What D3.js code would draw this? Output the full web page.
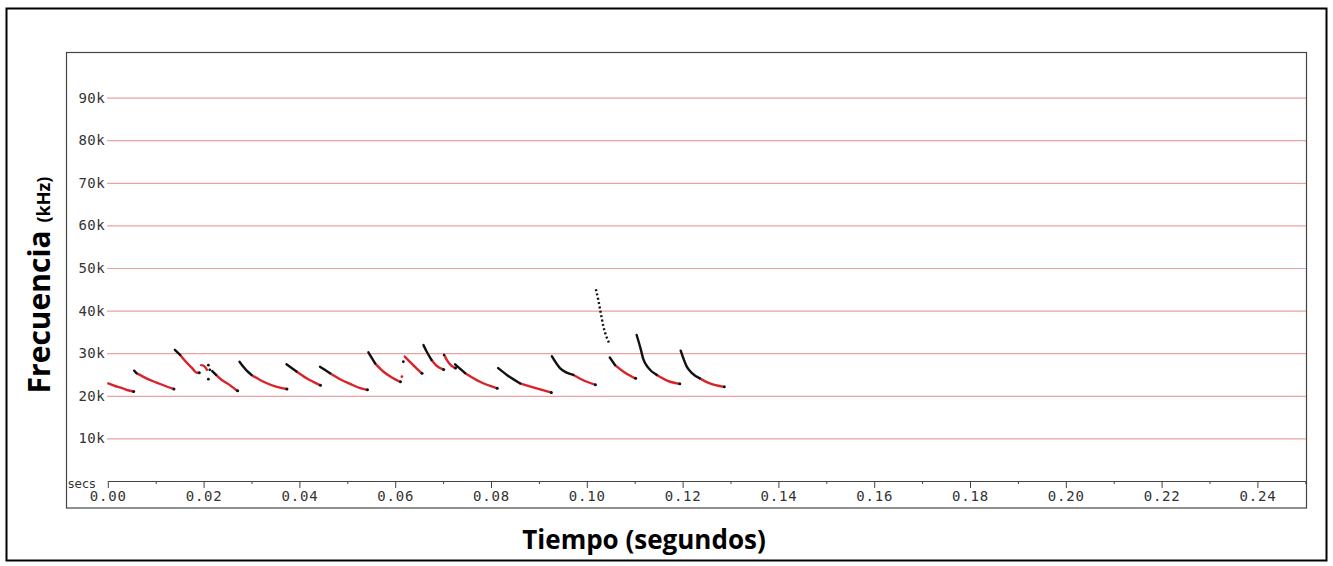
<!DOCTYPE html>
<html><head><meta charset="utf-8">
<script src="https://cdn.jsdelivr.net/npm/d3@7"></script>
<style>html,body{margin:0;padding:0;background:#fff;}svg{display:block;}</style>
</head><body>
<svg id="c" width="1333" height="566"></svg>
<script>
// ---- data: time (s), frequency (kHz) ----
const xTicksMajor = [0,0.02,0.04,0.06,0.08,0.10,0.12,0.14,0.16,0.18,0.20,0.22,0.24];
const xTicksMinor = [0.01,0.03,0.05,0.07,0.09,0.11,0.13,0.15,0.17,0.19,0.21,0.23,0.25];
const yTicks = [10,20,30,40,50,60,70,80,90];

const call1  = [[0.0001,22.9],[0.0015,22.3],[0.0030,21.8],[0.0042,21.3],[0.0053,21.0]];
const call2  = [[0.0055,25.9],[0.0060,25.3],[0.0067,24.9],[0.0084,23.9],[0.0102,23.1],[0.0120,22.3],[0.0137,21.6]];
const call3  = [[0.0140,30.8],[0.0151,29.6],[0.0163,28.0],[0.0176,26.5],[0.0186,25.4],[0.0190,25.4]];
const call4  = [[0.0218,25.8],[0.0226,24.9],[0.0238,23.7],[0.0251,22.8],[0.0263,21.8],[0.0270,21.2]];
const call5  = [[0.0275,28.0],[0.0283,26.8],[0.0290,25.9],[0.0300,24.9],[0.0325,23.3],[0.0353,22.1],[0.0373,21.6]];
const call6  = [[0.0373,27.4],[0.0394,25.7],[0.0415,24.1],[0.0443,22.5]];
const call7  = [[0.0443,26.8],[0.0453,26.1],[0.0464,25.3],[0.0485,23.9],[0.0506,22.8],[0.0527,21.8],[0.0541,21.4]];
const call8  = [[0.0544,30.2],[0.0558,27.6],[0.0575,25.7],[0.0593,24.3],[0.0610,23.3]];
const call9  = [[0.0620,29.2],[0.0634,27.6],[0.0655,25.3]];
const call10 = [[0.0659,31.9],[0.0667,30.1],[0.0676,28.4],[0.0687,27.0],[0.0700,26.2]];
const call11 = [[0.0702,29.6],[0.0708,28.4],[0.0716,27.2],[0.0725,26.5]];
const call12 = [[0.0725,27.4],[0.0746,25.3],[0.0777,23.3],[0.0812,21.8]];
const call13 = [[0.0815,26.5],[0.0833,24.9],[0.0861,22.9],[0.0888,22.0],[0.0925,20.8]];
const call14 = [[0.0927,29.3],[0.0944,26.5],[0.0972,24.9],[0.1000,23.3],[0.1017,22.6]];
const call15 = [[0.1048,29.0],[0.1059,27.2],[0.1080,25.4],[0.1101,24.1]];
const call16 = [[0.1104,34.3],[0.1112,31.2],[0.1118,28.6],[0.1128,26.6],[0.1146,24.9],[0.1174,23.3],[0.1193,22.8]];
const call17 = [[0.1196,30.6],[0.1209,26.8],[0.1219,25.4],[0.1236,24.1],[0.1257,22.9],[0.1286,22.1]];
const calls = [call1,call2,call3,call4,call5,call6,call7,call8,call9,call10,call11,call12,call13,call14,call15,call16,call17];
const blackCounts = [0,2,2,2,4,2,3,2,0,3,1,2,3,3,2,5,4];

const fragRed    = [[0.0195,27.2],[0.0201,27.0],[0.0207,26.1]];
const dotsBlack  = [[0.0210,27.2],[0.0213,26.1],[0.0210,23.9],[0.0617,28.0]];
const dotsRed    = [[0.0614,24.5]];
const sweepHigh  = [[0.1019,45.0],[0.1024,42.5],[0.1028,40.1],[0.1034,36.6],[0.1047,32.3]];

// ---- drawing ----
const svg = d3.select("#c");
const x = d3.scaleLinear().domain([0,0.25]).range([107.8,1305.3]);
const y = d3.scaleLinear().domain([0,100]).range([481,55]);
const RED = "#d9232a", BLK = "#111";

svg.append("rect").attr("x",6.5).attr("y",8.5).attr("width",1320).attr("height",552)
  .attr("fill","#fff").attr("stroke","#000").attr("stroke-width",2);
svg.append("rect").attr("x",66.5).attr("y",52.5).attr("width",1240).attr("height",455.5)
  .attr("fill","#fff").attr("stroke","#444").attr("stroke-width",1.2);

// y axis with grid
const gy = svg.append("g").attr("transform","translate(107,0)")
  .call(d3.axisLeft(y).tickValues(yTicks).tickFormat(d=>d+"k").tickSize(-(1306-107)).tickPadding(2));
gy.select(".domain").remove();
gy.selectAll(".tick line").attr("stroke","#eba2a2").attr("stroke-width",1.2);
gy.selectAll(".tick text").attr("font-family","DejaVu Sans Mono").attr("font-size",14)
  .attr("letter-spacing",0.4).attr("fill","#333");

// x axis
const gx = svg.append("g").attr("transform","translate(0,481)")
  .call(d3.axisBottom(x).tickValues(xTicksMajor).tickFormat(d3.format(".2f")).tickSize(7).tickSizeOuter(0).tickPadding(3));
gx.select(".domain").attr("stroke","#444");
gx.selectAll(".tick line").attr("stroke","#444");
gx.selectAll(".tick text").attr("font-family","DejaVu Sans Mono").attr("font-size",14)
  .attr("letter-spacing",0.8).attr("fill","#333");
const gxm = svg.append("g").attr("transform","translate(0,481)")
  .call(d3.axisBottom(x).tickValues(xTicksMinor).tickFormat("").tickSize(3).tickSizeOuter(0));
gxm.select(".domain").remove();
gxm.selectAll(".tick line").attr("stroke","#444");
svg.append("text").attr("x",68).attr("y",488).text("secs")
  .attr("font-family","DejaVu Sans").attr("font-size",12).attr("letter-spacing",0.3).attr("fill","#333");

// calls
const line = d3.line().x(d=>x(d[0])).y(d=>y(d[1])).curve(d3.curveMonotoneX);
const gc = svg.append("g").attr("fill","none").attr("stroke-width",2.4).attr("stroke-linecap","round");
calls.forEach((pts,i)=>{
  const nb = blackCounts[i];
  gc.append("path").attr("d",line(pts.slice(Math.max(nb-1,0)))).attr("stroke",RED);
  if(nb>0) gc.append("path").attr("d",line(pts.slice(0,nb))).attr("stroke",BLK);
  const last = pts[pts.length-1];
  svg.append("circle").attr("cx",x(last[0])+0.5).attr("cy",y(last[1])).attr("r",1.5).attr("fill",BLK);
});
gc.append("path").attr("d",line(fragRed)).attr("stroke",RED);
svg.selectAll(".db").data(dotsBlack).join("circle").attr("cx",d=>x(d[0])).attr("cy",d=>y(d[1])).attr("r",1.4).attr("fill",BLK);
svg.selectAll(".dr").data(dotsRed).join("circle").attr("cx",d=>x(d[0])).attr("cy",d=>y(d[1])).attr("r",1.4).attr("fill",RED);
gc.append("path").attr("d",line(sweepHigh)).attr("stroke",BLK).attr("stroke-width",2.4).attr("stroke-dasharray","2,2.4").attr("stroke-linecap","butt");

// titles
const ty = svg.append("text").attr("transform","translate(50,285) rotate(-90)").attr("text-anchor","middle")
  .attr("font-family","Open Sans").attr("font-weight","bold").attr("fill","#000");
ty.append("tspan").attr("font-size",30).text("Frecuencia ");
ty.append("tspan").attr("font-size",18).text("(kHz)");
svg.append("text").attr("x",644).attr("y",549).attr("text-anchor","middle")
  .attr("font-family","Open Sans").attr("font-weight","bold").attr("font-size",26).text("Tiempo (segundos)");
</script>
</body></html>
